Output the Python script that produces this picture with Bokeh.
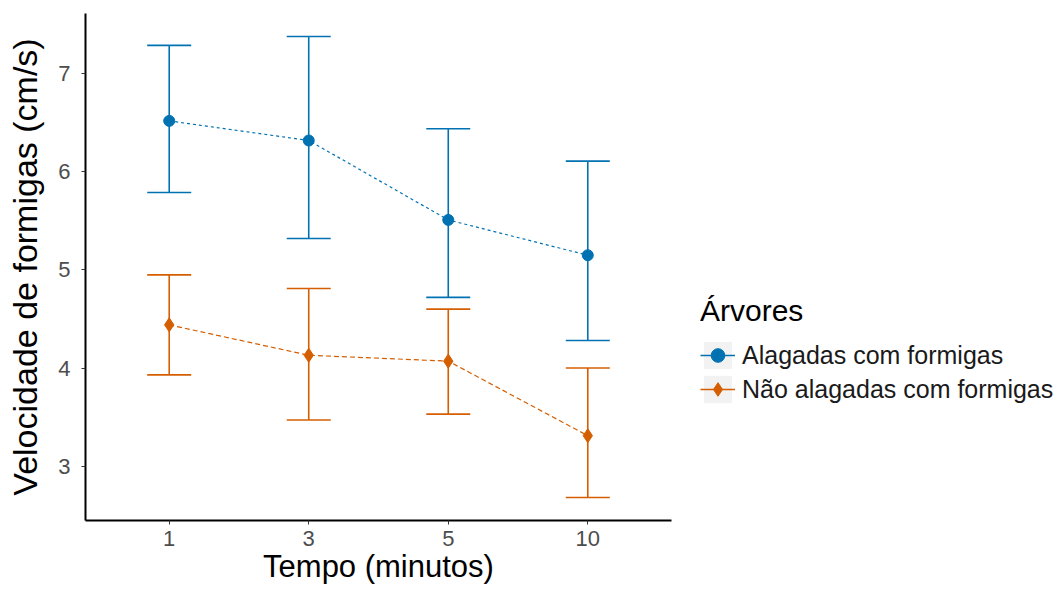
from bokeh.plotting import figure
from bokeh.models import (ColumnDataSource, FactorRange, Range1d, Whisker, TeeHead,
                          Legend, LegendItem, FixedTicker)
from bokeh.layouts import row
from bokeh.embed import file_html
from bokeh.resources import INLINE

tempos = ["1", "3", "5", "10"]
alag_mean = [6.52, 6.32, 5.51, 5.15]
alag_upper = [7.29, 7.38, 6.44, 6.11]
alag_lower = [5.79, 5.32, 4.72, 4.28]
nao_mean = [4.44, 4.13, 4.07, 3.31]
nao_upper = [4.95, 4.81, 4.60, 4.00]
nao_lower = [3.93, 3.47, 3.53, 2.68]
series_names = ["Alagadas com formigas", "Não alagadas com formigas"]
colors = ["#0072B2", "#D55E00"]
y_ticks = [3, 4, 5, 6, 7]

FONT = "Liberation Sans"
W, H = 1063, 590
PW = 680

p = figure(width=PW, height=H,
           x_range=FactorRange(*tempos, range_padding=0.1, range_padding_units="absolute"),
           y_range=Range1d(2.445, 7.615), output_backend="svg", toolbar_location=None,
           min_border_left=85, min_border_right=9, min_border_top=13, min_border_bottom=70)
p.outline_line_color = None
p.xgrid.visible = False
p.ygrid.visible = False

markers = ["circle", "diamond"]
sizes = [11, 14]
dashes = ["3 3", "5 3"]
series = [(alag_mean, alag_upper, alag_lower), (nao_mean, nao_upper, nao_lower)]
for i, (m, u, l) in enumerate(series):
    src = ColumnDataSource(dict(x=tempos, y=m, upper=u, lower=l))
    w = Whisker(base="x", upper="upper", lower="lower", source=src, dimension="height",
                line_color=colors[i], line_width=1.6,
                upper_head=TeeHead(size=44, line_color=colors[i], line_width=1.6),
                lower_head=TeeHead(size=44, line_color=colors[i], line_width=1.6))
    p.add_layout(w)
    p.line("x", "y", source=src, line_color=colors[i], line_width=1.2, line_dash=dashes[i])
    p.scatter("x", "y", source=src, marker=markers[i], size=sizes[i],
              fill_color=colors[i], line_color=colors[i])

for ax in (p.xaxis[0], p.yaxis[0]):
    ax.axis_line_color = "black"
    ax.axis_line_width = 2
    ax.major_tick_line_color = "#333333"
    ax.major_tick_in = 0
    ax.major_tick_out = 4
    ax.minor_tick_line_color = None
    ax.major_label_text_font = FONT
    ax.major_label_text_font_size = "22px"
    ax.major_label_text_color = "#4D4D4D"
    ax.axis_label_text_font = FONT
    ax.axis_label_text_font_style = "normal"
    ax.axis_label_text_color = "black"

p.yaxis.ticker = FixedTicker(ticks=y_ticks)
p.xaxis.axis_label = "Tempo (minutos)"
p.yaxis.axis_label = "Velocidade de formigas (cm/s)"
p.xaxis.axis_label_text_font_size = "31px"
p.yaxis.axis_label_text_font_size = "34px"
p.xaxis.major_label_standoff = 6
p.xaxis.axis_label_standoff = 0
p.yaxis.major_label_standoff = 11
p.yaxis.axis_label_standoff = 11

# legend panel (separate figure so the legend is not clipped by the plot frame)
lf = figure(width=W - PW, height=H, x_range=Range1d(0, 1), y_range=Range1d(0, 1),
            output_backend="svg", toolbar_location=None,
            x_axis_location=None, y_axis_location=None,
            min_border_left=0, min_border_right=0, min_border_top=0, min_border_bottom=0)
lf.grid.visible = False
lf.outline_line_color = None

legend_items = []
leg_sizes = [6, 8]
for i in range(2):
    bg = lf.quad(left=[5], right=[6], top=[6], bottom=[5], fill_color="#F2F2F2", line_color=None)
    ln = lf.line(x=[5, 6], y=[5, 6], line_color=colors[i], line_width=1.5)
    pt = lf.scatter(x=[5], y=[5], marker=markers[i], size=leg_sizes[i],
                    fill_color=colors[i], line_color=colors[i])
    legend_items.append(LegendItem(label=series_names[i], renderers=[bg, ln, pt]))

legend = Legend(items=legend_items, location=(20, 114), title="Árvores",
                title_text_font=FONT, title_text_font_size="30px", title_text_color="black",
                title_text_font_style="normal",
                title_standoff=10, label_text_font=FONT, label_text_font_size="25px",
                label_text_color="#1A1A1A", glyph_width=35, glyph_height=34, label_height=34,
                label_standoff=7, spacing=0, padding=0, margin=0, border_line_color=None,
                background_fill_alpha=0)
lf.add_layout(legend, "center")

open("out.html", "w").write(file_html(row(p, lf), INLINE))
